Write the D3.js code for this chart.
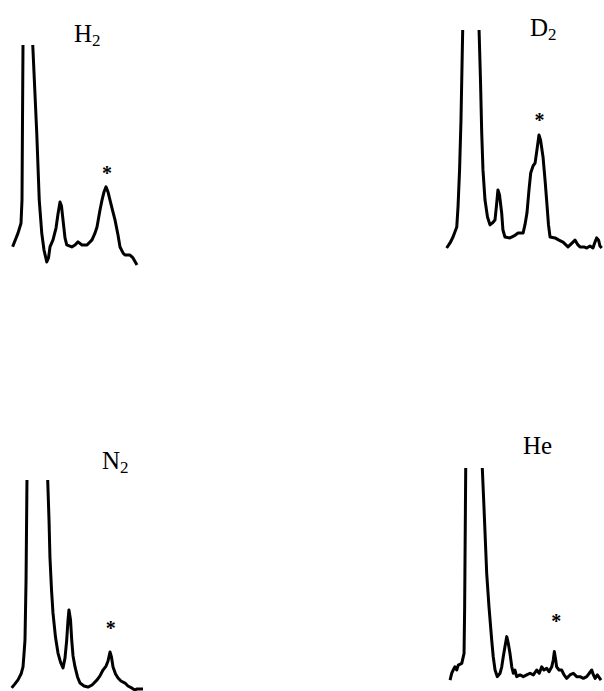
<!DOCTYPE html>
<html>
<head>
<meta charset="utf-8">
<script src="https://cdn.jsdelivr.net/npm/d3@7.9.0/dist/d3.min.js"></script>
<style>
  body { margin: 0; background: #fff; }
  svg { display: block; }
  text { font-family: "Liberation Serif", "DejaVu Serif", serif; fill: #000; }
</style>
</head>
<body>
<svg width="604" height="691"></svg>
<script>
// spectra, arbitrary units: shift 0-100, intensity 0-100 (main line goes off scale)
const h2Shift = [0.5, 4.8, 7.2, 8, 8.4, 8.8, 12.6, 16.6, 19.8, 21.8, 23.8, 25.6, 27.8, 29.2, 30.4, 32.8, 35.2, 36.8, 38.4, 39.6, 40.8, 42.4, 43.8, 47.8, 50.4, 52.8, 56, 60, 64, 66.4, 68, 70.4, 72, 73.6, 75.2, 76.8, 78.4, 80.8, 82.4, 84.8, 86.4, 88.8, 90.4, 94.4, 96.8, 100];
const h2Int   = [8.3, 14.5, 19, 29.5, 66, 100, 400, 100, 60, 29.5, 14.5, 6.8, 1.4, 3.2, 8.2, 11.4, 16.8, 23.2, 28.6, 26.8, 20.5, 12.3, 9.1, 8.2, 9.1, 10.5, 9.1, 9.1, 11.4, 14.5, 17.3, 25, 29.5, 33.2, 35.5, 33.2, 29.5, 24, 20.5, 13.6, 8.2, 5.5, 4.5, 4.5, 3.2, 0];

const d2Shift = [0.4, 2.6, 4.5, 6.9, 7.7, 8.7, 9.6, 10.7, 15.4, 21.2, 22.1, 22.9, 23.7, 25, 26.6, 28.2, 29.8, 31.4, 32.4, 33.3, 34.3, 35.7, 36.5, 37.8, 41, 43.6, 46.2, 49.4, 50.6, 51.9, 53.2, 54.3, 55.8, 57.1, 58.3, 59.6, 60.6, 62.2, 63.5, 64.5, 65.7, 66.7, 69.9, 72.4, 75, 78.2, 80.1, 82.7, 84.6, 85.9, 88.5, 90.2, 92.3, 94.2, 95.5, 96.6, 97.8, 98.7, 99.8];
const d2Int   = [0.9, 3.2, 5.9, 10.5, 19.5, 36.4, 59, 100, 400, 100, 77.3, 53.2, 36.4, 22.7, 15, 11.4, 12.3, 13.6, 20.5, 27.3, 25, 16.8, 9.1, 5.9, 5.5, 6.4, 7.7, 7.7, 11.4, 16.8, 27.3, 35, 38.2, 39.5, 45.5, 52.3, 50, 42.3, 31.8, 22.7, 11.4, 5.9, 5.5, 4.5, 3.6, 1.4, 2.7, 4.5, 2.3, 1.4, 1.4, 0.9, 1.8, 0.9, 3.6, 5.5, 4.5, 1.8, 0.9];

const n2Shift = [0.5, 3, 5.3, 7.6, 9.1, 9.8, 10.6, 11.4, 12.1, 19.9, 27.8, 28.8, 29.5, 30.7, 31.8, 33.7, 35.6, 37.5, 39.4, 40.9, 42.2, 43.2, 43.9, 45.1, 46, 47, 48.5, 50.4, 52.3, 55.3, 58.3, 61.4, 65.2, 67.4, 69.7, 72, 73.5, 75, 76.1, 77.3, 79.2, 81.1, 83.3, 86.4, 88.6, 91.4, 93.9, 95.5, 97.7, 100];
const n2Int   = [1, 2.9, 4.8, 7.6, 11, 16.7, 23.8, 52.4, 100, 400, 100, 81, 63.3, 47.6, 36.7, 25.2, 17.6, 13.3, 10.5, 15.2, 23.8, 33.3, 38.1, 33.3, 23.8, 16.2, 11, 6.2, 3.3, 1.9, 1.4, 2.4, 4.8, 6.7, 9.5, 11.4, 13.8, 18.1, 15.7, 11, 7.6, 5.7, 4.3, 3.3, 1.9, 1, 0, 0.5, 0.5, 0.5];

const heShift = [0.7, 1.8, 2.8, 3.9, 5.1, 6.1, 8.4, 9.9, 10.3, 11, 16.6, 21.9, 23, 24.8, 26.3, 28.1, 29.1, 30.3, 31.8, 33.6, 34.7, 35.7, 36.8, 38, 39, 40.1, 41.3, 42.3, 43.4, 44.5, 46.7, 48.9, 51.1, 53.3, 55.5, 57.7, 59.4, 61, 62.5, 64.3, 65.8, 67.6, 68.6, 69.3, 70.2, 70.8, 72.4, 74.1, 75.7, 77.4, 79.6, 81.8, 84, 86.2, 88.4, 90.6, 92.3, 93.9, 95, 96.1, 97.6, 100];
const heInt   = [0.9, 4.1, 5.6, 7.1, 5.6, 7.9, 8.7, 13.4, 35.2, 100, 400, 100, 81.9, 50.8, 35.2, 19.6, 11.8, 5.6, 2.5, 4.1, 7.1, 11.8, 16.5, 21.2, 18.1, 13.4, 7.1, 4.1, 5.6, 2.5, 3.3, 2.5, 3.3, 4.1, 3.3, 5.6, 4.1, 7.1, 5.6, 6.4, 4.8, 7.1, 10.3, 14.2, 10.3, 7.1, 5.6, 5.6, 3.3, 1.7, 3.3, 4.1, 2.5, 2.5, 1.7, 2.5, 4.1, 5.6, 3.3, 1.7, 3.3, 0.9];

const gases = ["H", "D", "N", "He"];
const subs = ["2", "2", "2", ""];
// marked band (*) position, in data units
const starShift = [76, 60, 75.5, 70.5];
const starInt = [43, 60.5, 31, 30];

const shifts = [h2Shift, d2Shift, n2Shift, heShift];
const ints = [h2Int, d2Int, n2Int, heInt];

// panel boxes on the page
const boxes = [
  { x0: 12, x1: 137, top: 45, bottom: 265, lx: 74, ly: 42 },
  { x0: 446, x1: 602, top: 30, bottom: 250, lx: 530, ly: 36 },
  { x0: 11, x1: 143, top: 480, bottom: 690, lx: 102, ly: 469 },
  { x0: 449, x1: 601, top: 468, bottom: 682, lx: 523, ly: 454 }
];

const svg = d3.select("svg");

boxes.forEach((b, i) => {
  const x = d3.scaleLinear().domain([0, 100]).range([b.x0, b.x1]);
  const y = d3.scaleLinear().domain([0, 100]).range([b.bottom, b.top]);

  svg.append("clipPath").attr("id", "clip" + i)
    .append("rect")
    .attr("x", b.x0 - 10).attr("y", b.top)
    .attr("width", b.x1 - b.x0 + 20).attr("height", b.bottom - b.top + 20);

  const pts = shifts[i].map((s, k) => [s, ints[i][k]]);
  const line = d3.line().x(d => x(d[0])).y(d => y(d[1]));

  svg.append("path")
    .attr("clip-path", `url(#clip${i})`)
    .attr("d", line(pts))
    .attr("fill", "none")
    .attr("stroke", "#000")
    .attr("stroke-width", 3)
    .attr("stroke-linejoin", "round");

  const lab = svg.append("text")
    .attr("x", b.lx).attr("y", b.ly)
    .attr("font-size", 25)
    .text(gases[i]);
  if (subs[i]) {
    lab.append("tspan")
      .attr("font-size", 17)
      .attr("dy", 4)
      .text(subs[i]);
  }

  svg.append("text")
    .attr("x", x(starShift[i]))
    .attr("y", y(starInt[i]) + 10)
    .attr("text-anchor", "middle")
    .attr("font-size", 20)
    .attr("font-weight", "bold")
    .text("*");
});
</script>
</body>
</html>
